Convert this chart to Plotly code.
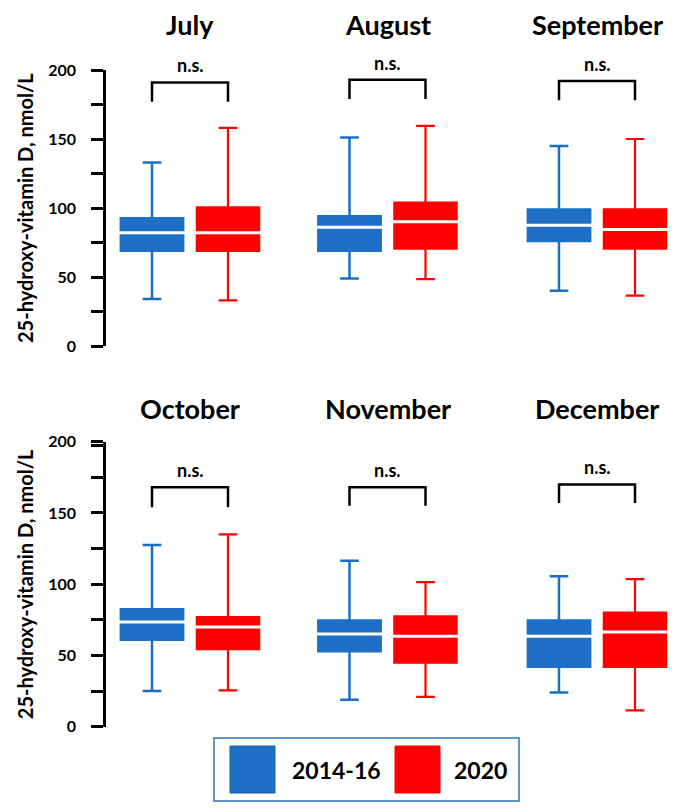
import plotly.graph_objects as go
from plotly.subplots import make_subplots

months = ["July", "August", "September", "October", "November", "December"]
groups = ["2014-16", "2020"]

# five-number summaries: [lower whisker, Q1, median, Q3, upper whisker]
low_2014 = [34, 49, 40, 25, 19, 24]
q1_2014 = [69, 69, 76, 61, 53, 42]
med_2014 = [82, 86, 87.5, 73.5, 65, 63.5]
q3_2014 = [92.5, 94, 99, 82.5, 74.5, 74.5]
high_2014 = [133, 151, 145, 127.5, 116.5, 105.5]

low_2020 = [33, 48.5, 36.5, 25.5, 21, 11.5]
q1_2020 = [69, 70.5, 70.5, 54.5, 45, 42]
med_2020 = [82, 90, 84.5, 70, 63.5, 66.5]
q3_2020 = [100.5, 104, 99, 77, 77.5, 80]
high_2020 = [158, 159.5, 150, 135, 101.5, 103.5]

sig_labels = ["n.s."] * 6
bracket_top = [191, 193, 192, 168, 168, 170]
bracket_leg = [177, 179, 178, 154, 155, 157]

y_ticks = [0, 25, 50, 75, 100, 125, 150, 175, 200]
y_ticktext = ["0", "", "50", "", "100", "", "150", "", "200"]

BLUE_FILL = "#1f6fc6"
BLUE_LINE = "#1a70c4"
RED = "#ff0000"
FONT = "Lato"

W, H = 687, 812

fig = make_subplots(rows=2, cols=3)

col_centers = [190, 387.5, 597]
half = 76
row_dom = [(1 - 346 / H, 1 - 70 / H), (1 - 726.7 / H, 1 - 441.7 / H)]

for i, m in enumerate(months):
    r = i // 3 + 1
    c = i % 3 + 1
    fig.add_trace(go.Box(
        x=[groups[0]], q1=[q1_2014[i]], median=[med_2014[i]], q3=[q3_2014[i]],
        lowerfence=[low_2014[i]], upperfence=[high_2014[i]],
        fillcolor=BLUE_FILL, line=dict(color=BLUE_LINE, width=2.5),
        width=0.82, whiskerwidth=0.3, boxpoints=False, name=groups[0],
        showlegend=False), row=r, col=c)
    fig.add_trace(go.Box(
        x=[groups[1]], q1=[q1_2020[i]], median=[med_2020[i]], q3=[q3_2020[i]],
        lowerfence=[low_2020[i]], upperfence=[high_2020[i]],
        fillcolor=RED, line=dict(color=RED, width=2.2),
        width=0.82, whiskerwidth=0.3, boxpoints=False, name=groups[1],
        showlegend=False), row=r, col=c)
    # white median lines
    fig.add_trace(go.Scatter(
        x=groups, y=[med_2014[i], med_2020[i]], mode="markers",
        marker=dict(symbol="line-ew", size=60, color="white",
                    line=dict(color="white", width=3)),
        showlegend=False, hoverinfo="skip"), row=r, col=c)
    # significance bracket
    xa = "x" if i == 0 else f"x{i+1}"
    ya = "y" if i == 0 else f"y{i+1}"
    fig.add_shape(type="path",
                  path=f"M 0 {bracket_leg[i]} L 0 {bracket_top[i]} L 1 {bracket_top[i]} L 1 {bracket_leg[i]}",
                  xref=xa, yref=ya, line=dict(color="black", width=2.5))
    fig.add_annotation(x=0.5, y=bracket_top[i], xref=xa, yref=ya, text=f"<b>{sig_labels[i]}</b>",
                       showarrow=False, xanchor="center", yanchor="bottom", yshift=4,
                       font=dict(family=FONT, size=18, color="black"))
    # month title
    ty = 1 - 25 / H if r == 1 else 1 - 408 / H
    fig.add_annotation(x=col_centers[c - 1] / W, y=ty, xref="paper", yref="paper",
                       text=f"<b>{m}</b>", showarrow=False, xanchor="center", yanchor="middle",
                       font=dict(family=FONT, size=27, color="black"))

    # axes
    xd = [(col_centers[c - 1] - half) / W, (col_centers[c - 1] + half) / W]
    fig.update_xaxes(row=r, col=c, domain=xd, visible=False, type="category",
                     range=[-0.5, 1.5], categoryorder="array", categoryarray=groups,
                     automargin=False)
    yd = list(row_dom[r - 1])
    if c == 1:
        tv = list(y_ticks)
        tt = list(y_ticktext)
        if r == 2:
            tv.append(197.5)
            tt.append("")
        fig.update_yaxes(row=r, col=c, domain=yd, range=[0, 200], anchor="free",
                         position=104 / W, showline=True, linecolor="black", linewidth=2.5,
                         ticks="outside", ticklen=12, tickwidth=2.5, tickcolor="black",
                         tickvals=tv, ticktext=tt, showgrid=False, zeroline=False,
                         ticklabelstandoff=12, automargin=False,
                         tickfont=dict(family=FONT, size=16, color="black", weight="bold"))
    else:
        fig.update_yaxes(row=r, col=c, domain=yd, range=[0, 200], visible=False,
                         showgrid=False, zeroline=False, automargin=False)

# y-axis titles
for r in range(2):
    d = row_dom[r]
    fig.add_annotation(x=25 / W, y=(d[0] + d[1]) / 2, xref="paper", yref="paper",
                       text="<b>25-hydroxy-vitamin D, nmol/L</b>", textangle=-90,
                       showarrow=False, xanchor="center", yanchor="middle",
                       font=dict(family=FONT, size=20, color="black"))

# legend drawn manually
def px(x):
    return x / W

def py(y):
    return 1 - y / H

fig.add_shape(type="rect", xref="paper", yref="paper", x0=px(214), x1=px(519),
              y0=py(801), y1=py(738), line=dict(color="#2e75b6", width=1.5),
              fillcolor="white")
leg_colors = [BLUE_FILL, RED]
leg_sq_x = [230, 395]
leg_txt_x = [290, 452]
for k, g in enumerate(groups):
    fig.add_shape(type="rect", xref="paper", yref="paper",
                  x0=px(leg_sq_x[k]), x1=px(leg_sq_x[k] + 45), y0=py(793), y1=py(746),
                  line=dict(color="#1a5fa8" if k == 0 else RED, width=1),
                  fillcolor=leg_colors[k])
    fig.add_annotation(x=px(leg_txt_x[k]), y=py(769.5), xref="paper", yref="paper",
                       text=f"<b>{g}</b>", showarrow=False, xanchor="left", yanchor="middle",
                       font=dict(family=FONT, size=23, color="black"))

fig.update_layout(width=W, height=H, margin=dict(l=0, r=0, t=0, b=0, autoexpand=False),
                  plot_bgcolor="white", paper_bgcolor="white", showlegend=False,
                  font=dict(family=FONT))

fig.write_html("out.html", config={"displayModeBar": False},
               post_script="document.body.style.margin='0';")
